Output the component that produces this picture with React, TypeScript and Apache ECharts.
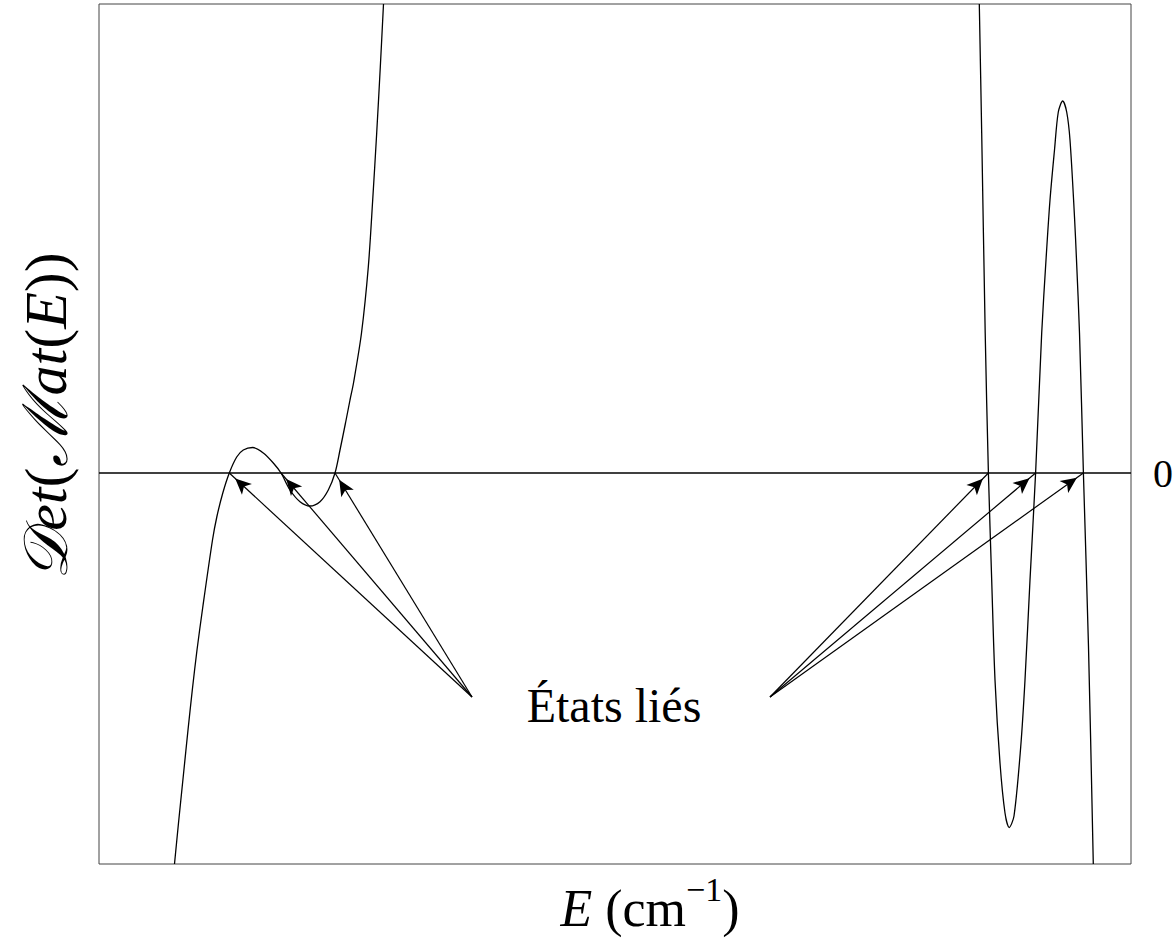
import { useEffect, useRef } from 'react';
import * as echarts from 'echarts';

// Left branch of Det(Mat(E)) (E in arbitrary units, Det in arbitrary units)
const leftE = [7.55, 7.95, 8.46, 8.9, 9.33, 9.8, 10.38, 11.35, 11.78, 12.38, 13.03, 13.77, 14.43, 15.37, 16.43, 17.43, 18.2, 19.1, 20.1, 21.1, 22.1, 22.93, 23.6, 24.1, 24.65, 25.1, 25.45, 26.25, 26.93, 27.37, 27.77, 28.13, 28.45];
const leftDet = [-3.91, -3.5, -3.0, -2.57, -2.17, -1.77, -1.34, -0.67, -0.44, -0.2, 0, 0.16, 0.23, 0.255, 0.2, 0.1, 0, -0.17, -0.287, -0.33, -0.287, -0.17, 0, 0.23, 0.5, 0.73, 0.9, 1.4, 2.06, 2.73, 3.4, 4.06, 4.69];

// Right branch
const rightE = [88.03, 88.27, 88.62, 88.94, 89.27, 89.6, 90.1, 90.6, 91.02, 91.5, 92.17, 92.6, 93.1, 93.66, 94.27, 94.7, 95.1, 95.55, 95.93, 96.37, 96.77, 97.1, 97.55, 97.75, 98.05, 98.44, 98.95, 99.43];
const rightDet = [4.69, 3.4, 1.4, 0, -1.07, -2.07, -2.9, -3.4, -3.545, -3.43, -2.74, -2.07, -1.07, 0, 1.4, 2.13, 2.73, 3.23, 3.61, 3.72, 3.61, 3.33, 2.56, 2.13, 1.4, 0, -1.74, -3.91];

// Bound states (zeros of the determinant) and label anchor points
const leftRootsE = [13.03, 18.2, 23.6];
const rightRootsE = [88.94, 93.66, 98.44];
const leftArrowStart = [37.3, -2.24];
const rightArrowStart = [67.1, -2.24];

const E_MIN = 0;
const E_MAX = 103.2;
const DET_MIN = -3.91;
const DET_MAX = 4.69;

const labelText = 'États liés';
const zeroLabel = '0';

const SERIF = "'Liberation Serif', 'DejaVu Serif', serif";

export default function App() {
  const ref = useRef<HTMLDivElement>(null);
  useEffect(() => {
    if (!ref.current) return;
    const chart = echarts.init(ref.current, undefined, { renderer: 'svg' });
    const zip = (xs: number[], ys: number[]) => xs.map((x, i) => [x, ys[i]]);
    const arrowData = [
      ...leftRootsE.map((e) => [{ coord: leftArrowStart }, { coord: [e, 0] }]),
      ...rightRootsE.map((e) => [{ coord: rightArrowStart }, { coord: [e, 0] }]),
    ];
    chart.setOption({
      animation: false,
      backgroundColor: '#fff',
      grid: {
        left: 99,
        top: 4,
        right: 45,
        bottom: 78,
        show: true,
        borderColor: '#444',
        borderWidth: 1,
        backgroundColor: 'transparent',
      },
      xAxis: {
        type: 'value',
        min: E_MIN,
        max: E_MAX,
        axisLine: { show: false },
        axisTick: { show: false },
        axisLabel: { show: false },
        splitLine: { show: false },
      },
      yAxis: {
        type: 'value',
        min: DET_MIN,
        max: DET_MAX,
        axisLine: { show: false },
        axisTick: { show: false },
        axisLabel: { show: false },
        splitLine: { show: false },
      },
      series: [
        {
          type: 'line',
          name: 'left',
          data: zip(leftE, leftDet),
          showSymbol: false,
          smooth: 0.3,
          lineStyle: { color: '#000', width: 1.3 },
          silent: true,
          markLine: {
            silent: true,
            symbol: ['none', 'none'],
            lineStyle: { color: '#000', width: 1.6, type: 'solid' },
            label: {
              show: true,
              position: 'end',
              formatter: zeroLabel,
              distance: 22,
              fontSize: 40,
              color: '#000',
              fontFamily: SERIF,
            },
            data: [{ yAxis: 0 }],
          },
        },
        {
          type: 'line',
          name: 'right',
          data: zip(rightE, rightDet),
          showSymbol: false,
          smooth: 0.3,
          lineStyle: { color: '#000', width: 1.3 },
          silent: true,
          markLine: {
            silent: true,
            symbol: ['none', 'arrow'],
            symbolSize: [11, 16],
            symbolOffset: [[0, 0], [0, 8]],
            lineStyle: { color: '#000', width: 1.2, type: 'solid' },
            label: { show: false },
            data: arrowData,
          },
        },
      ],
      graphic: [
        {
          type: 'text',
          x: 614,
          y: 705,
          style: {
            text: labelText,
            fontSize: 48,
            fontFamily: SERIF,
            fill: '#000',
            align: 'center',
            verticalAlign: 'middle',
            textAlign: 'center',
            textVerticalAlign: 'middle',
          },
        },
        {
          type: 'text',
          x: 650,
          y: 903,
          style: {
            text: '{e|E} {n|(cm}{s|−1}{n|)}',
            fontSize: 52,
            fontFamily: SERIF,
            fill: '#000',
            align: 'center',
            verticalAlign: 'middle',
            textAlign: 'center',
            textVerticalAlign: 'middle',
            rich: {
              e: { fontSize: 52, fontStyle: 'italic', fontFamily: SERIF, verticalAlign: 'bottom', lineHeight: 62 },
              n: { fontSize: 52, fontFamily: SERIF, verticalAlign: 'bottom', lineHeight: 62 },
              s: { fontSize: 34, fontFamily: SERIF, verticalAlign: 'top', lineHeight: 34 },
            },
          },
        },
        {
          type: 'text',
          x: 46,
          y: 416,
          rotation: Math.PI / 2,
          style: {
            text: '{c|𝒟}{i|et}{n|(}{c|ℳ}{i|at}{n|(}{i|E}{n|))}',
            fontSize: 60,
            fontFamily: SERIF,
            fill: '#000',
            align: 'center',
            verticalAlign: 'middle',
            textAlign: 'center',
            textVerticalAlign: 'middle',
            rich: {
              c: { fontSize: 62, fontFamily: SERIF, fontStyle: 'italic' },
              i: { fontSize: 60, fontFamily: SERIF, fontStyle: 'italic' },
              n: { fontSize: 60, fontFamily: SERIF },
            },
          },
        },
      ],
    });
    return () => chart.dispose();
  }, []);
  return (
    <div
      ref={ref}
      style={{ position: 'fixed', left: 0, top: 0, width: 1176, height: 942, background: '#fff' }}
    />
  );
}
